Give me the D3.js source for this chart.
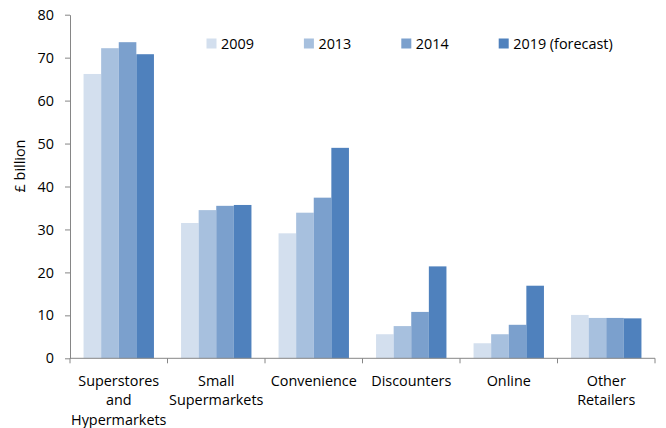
<!DOCTYPE html>
<html>
<head>
<meta charset="utf-8">
<script src="https://cdn.jsdelivr.net/npm/d3@7"></script>
<style>
  html, body { margin: 0; padding: 0; background: #fff; }
  svg { display: block; font-family: "Open Sans", "Liberation Sans", sans-serif; }
</style>
</head>
<body>
<svg id="chart" width="666" height="428"></svg>
<script>
// Grocery market size by channel, £ billion
const categories = [
  ["Superstores", "and", "Hypermarkets"],
  ["Small", "Supermarkets"],
  ["Convenience"],
  ["Discounters"],
  ["Online"],
  ["Other", "Retailers"]
];
const seriesNames = ["2009", "2013", "2014", "2019 (forecast)"];
const v2009 = [66.2, 31.5, 29.1, 5.6, 3.5, 10.1];
const v2013 = [72.2, 34.5, 33.9, 7.5, 5.6, 9.4];
const v2014 = [73.6, 35.5, 37.4, 10.8, 7.8, 9.4];
const v2019 = [70.8, 35.7, 49.0, 21.4, 16.9, 9.3];
const yTicks = [0, 10, 20, 30, 40, 50, 60, 70, 80];
const colors = ["#D3DFEE", "#A7C0DE", "#7BA0CD", "#4F81BD"];

const seriesValues = [v2009, v2013, v2014, v2019];

const svg = d3.select("#chart");
const plot = { left: 70, right: 655, top: 14.7, bottom: 358.3 };
const axisColor = "#868686";
const fontSize = 14.4;

const catKeys = categories.map(c => c.join(" "));
const x0 = d3.scaleBand().domain(catKeys).range([plot.left, plot.right]).padding(0);
const x1 = d3.scaleBand().domain(seriesNames).range([0, x0.bandwidth()])
  .paddingInner(0).paddingOuter(0.77);
const y = d3.scaleLinear().domain([0, 80]).range([plot.bottom, plot.top]);

// Bars
const groups = svg.append("g").selectAll("g")
  .data(catKeys)
  .join("g")
  .attr("transform", d => `translate(${x0(d)},0)`);

groups.selectAll("rect")
  .data((d, i) => seriesNames.map((s, j) => ({ s, j, v: seriesValues[j][i] })))
  .join("rect")
  .attr("x", d => x1(d.s))
  .attr("width", x1.bandwidth())
  .attr("y", d => y(d.v))
  .attr("height", d => y(0) - y(d.v))
  .attr("fill", d => colors[d.j]);

// Y axis
const yAxis = svg.append("g")
  .attr("transform", `translate(${plot.left},0)`)
  .call(d3.axisLeft(y).tickValues(yTicks).tickSize(5).tickSizeOuter(0).tickPadding(11));
yAxis.select(".domain").attr("stroke", axisColor);
yAxis.selectAll(".tick line").attr("stroke", axisColor);
yAxis.selectAll(".tick text")
  .attr("font-size", fontSize).attr("font-family", "Open Sans").attr("fill", "#000");

// X axis: ticks sit on category boundaries
const boundaries = catKeys.map(k => x0(k)).concat([plot.right]);
const xAxisG = svg.append("g").attr("transform", `translate(0,${plot.bottom})`);
xAxisG.append("line")
  .attr("x1", plot.left).attr("x2", plot.right)
  .attr("stroke", axisColor);
xAxisG.selectAll("line.tk")
  .data(boundaries)
  .join("line")
  .attr("class", "tk")
  .attr("x1", d => d).attr("x2", d => d)
  .attr("y1", 0).attr("y2", 5)
  .attr("stroke", axisColor);

// Category labels, one line per word group
const labels = svg.append("g")
  .attr("font-size", fontSize).attr("text-anchor", "middle").attr("fill", "#000");
categories.forEach((lines, i) => {
  const cx = x0(catKeys[i]) + x0.bandwidth() / 2;
  const t = labels.append("text").attr("x", cx).attr("y", 385.5);
  lines.forEach((ln, k) => {
    t.append("tspan")
      .attr("x", cx)
      .attr("dy", k === 0 ? 0 : 19.6)
      .text(ln);
  });
});

// Y axis title
svg.append("text")
  .attr("transform", "translate(25,166) rotate(-90)")
  .attr("text-anchor", "middle")
  .attr("font-size", fontSize)
  .attr("fill", "#000")
  .text("£ billion");

// Legend
const legend = svg.append("g");
const legendX = d3.scalePoint().domain(seriesNames).range([206.5, 498.7]);
const items = legend.selectAll("g")
  .data(seriesNames)
  .join("g")
  .attr("transform", d => `translate(${legendX(d)},38.5)`);
items.append("rect")
  .attr("width", 10).attr("height", 10)
  .attr("fill", (d, i) => colors[i]);
items.append("text")
  .attr("x", 14.5).attr("y", 10.5)
  .attr("font-size", fontSize).attr("fill", "#000")
  .text(d => d);
</script>
</body>
</html>
